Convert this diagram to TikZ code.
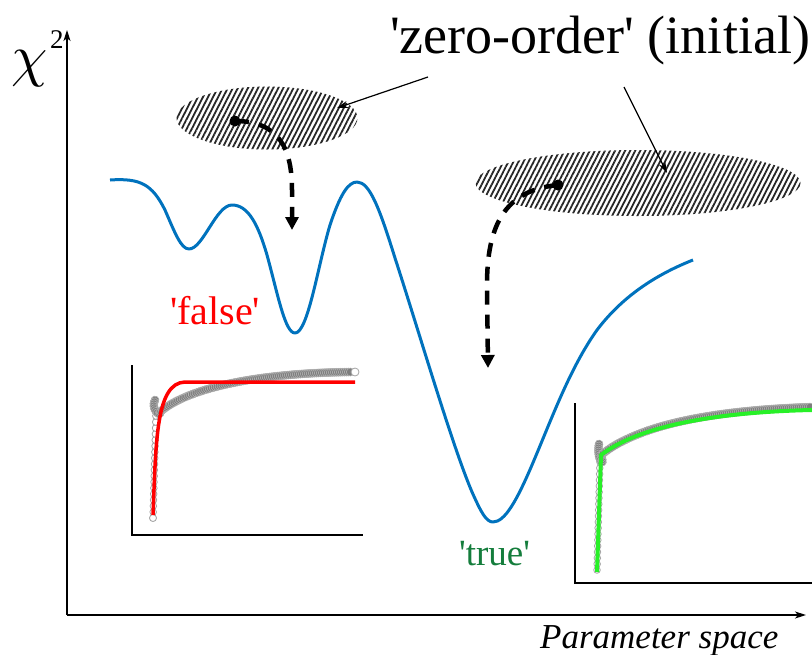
\documentclass[tikz,border=0pt]{standalone}
\usepackage{fontspec}
\setmainfont{Liberation Serif}[Ligatures=TeXOff]
\usetikzlibrary{arrows.meta,patterns.meta,shapes.geometric,decorations.markings}
\definecolor{curveblue}{RGB}{0,114,189}
\definecolor{truegreen}{RGB}{20,125,60}
\definecolor{fitgreen}{RGB}{40,240,40}
\definecolor{datagray}{RGB}{125,125,125}
\tikzset{
  axis/.style={line width=1.3pt,-{Stealth[length=11pt,width=7pt,inset=3pt]}},
  insetaxis/.style={line width=1.8pt},
  hatch/.style={ellipse,inner sep=0,draw=none,pattern={Lines[angle=63,distance=4.5pt,line width=1.8pt]},pattern color=black!85},
  dot/.style={circle,fill=black,inner sep=0,minimum size=11pt},
  jump/.style={line width=4.5pt,dash pattern=on 14pt off 10pt,-{Triangle[width=13pt,length=13pt]}},
  leader/.style={line width=1.2pt,-{Stealth[length=11pt,width=7pt]}},
  opendata/.style={decoration={markings,mark=between positions 0 and 1 step 6pt with {\filldraw[draw=datagray!70,fill=white,line width=0.8pt] (0,0) circle (3.3pt);}},decorate},
  banddata/.style={decoration={markings,mark=between positions 0 and 1 step 2pt with {\filldraw[draw=datagray!60,fill=datagray,line width=0.6pt] (0,0) circle (4pt);}},decorate},
  lbl/.style={inner sep=0,anchor=base west}
}
\begin{document}
\begin{tikzpicture}[x=1pt,y=-1pt]
\useasboundingbox (0,0) rectangle (812,654);
% main axes
\coordinate (O) at (67,615);
\coordinate (ytop) at (67,30);
\coordinate (xend) at (806,615);
\draw[axis] (O) -- (ytop);
\draw[axis] (O) -- (xend);
\node[lbl] (chi) at (11,75) {\scalebox{5.8}{$\chi$}};
\node[lbl,font=\fontsize{27}{30}\selectfont] (two) at (50,48) {2};
\node[lbl,font=\fontsize{35}{40}\selectfont\itshape] (xlab) at (540,648) {Parameter space};
% chi^2 landscape
\draw[curveblue,line width=3pt,line join=round]
 (110,180) .. controls (140,178) and (152,184) .. (165,210)
 .. controls (175,233) and (181,249) .. (189,249)
 .. controls (203,249) and (216,205) .. (232,205)
 .. controls (248,205) and (258,224) .. (267,255)
 .. controls (278,295) and (285,333) .. (295,333)
 .. controls (308,333) and (318,265) .. (330,225)
 .. controls (340,195) and (348,182) .. (357,182)
 .. controls (370,182) and (380,210) .. (395,258)
 .. controls (420,335) and (452,445) .. (472,492)
 .. controls (481,512) and (486,522) .. (493,522)
 .. controls (505,522) and (517,500) .. (532,465)
 .. controls (552,418) and (570,368) .. (597,330)
 .. controls (622,297) and (655,275) .. (693,260);
% title
\node[lbl,font=\fontsize{54}{60}\selectfont] (title) at (390,53) {'zero-order' (initial)};
% hatched regions
\node[hatch,minimum width=181pt,minimum height=63pt] (e1) at (267,118) {};
\node[hatch,minimum width=325pt,minimum height=66pt] (e2) at (638,183) {};
% leader arrows
\coordinate (t1) at (428,77);
\coordinate (t2) at (624,87);
\coordinate (h1) at (337,108);
\coordinate (h2) at (667,173);
\draw[leader] (t1) -- (h1);
\draw[leader] (t2) -- (h2);
% starting points and descent arrows
\node[dot] (d1) at (235,121) {};
\node[dot] (d2) at (558,185) {};
\coordinate (m1) at (292,230);
\coordinate (m2) at (488,368);
\draw[jump] (d1.center) .. controls (280,121) and (292,150) .. (292,190) -- (m1);
\draw[jump] (d2.center) .. controls (505,190) and (487,225) .. (487,285) -- (m2);
% labels
\node[lbl,text=red,font=\fontsize{40}{44}\selectfont] (false) at (170,324) {'false'};
\node[lbl,text=truegreen,font=\fontsize{37}{42}\selectfont] (true) at (459,565) {'true'};
% inset 1 (false fit)
\coordinate (a1) at (132,365);
\coordinate (o1) at (132,535);
\coordinate (b1) at (363,535);
\draw[insetaxis] (a1) -- (o1) -- (b1);
\path[opendata] (153,518) -- (156,412);
\path[banddata] (155,400) .. controls (150,410) and (162,418) .. (160,412) .. controls (185,390) and (250,373) .. (352,372);
\filldraw[draw=datagray!70,fill=white,line width=0.8pt] (355,372) circle (4pt);
\filldraw[draw=datagray!70,fill=white,line width=0.8pt] (153,518) circle (3.5pt);
\draw[red,line width=3.5pt] (153,515) .. controls (156,440) and (156,383) .. (185,382) -- (355,382);
% inset 2 (true fit)
\coordinate (a2) at (575,403);
\coordinate (o2) at (575,583);
\coordinate (b2) at (812,583);
\draw[insetaxis] (a2) -- (o2) -- (b2);
\path[opendata] (597,570) -- (600,460);
\path[banddata] (599,444) .. controls (596,460) and (606,470) .. (601,455) .. controls (640,423) and (720,410) .. (812,407);
\draw[fitgreen,line width=4pt] (597,572) -- (601,455) .. controls (640,425) and (720,412) .. (812,410);
\end{tikzpicture}
\end{document}
